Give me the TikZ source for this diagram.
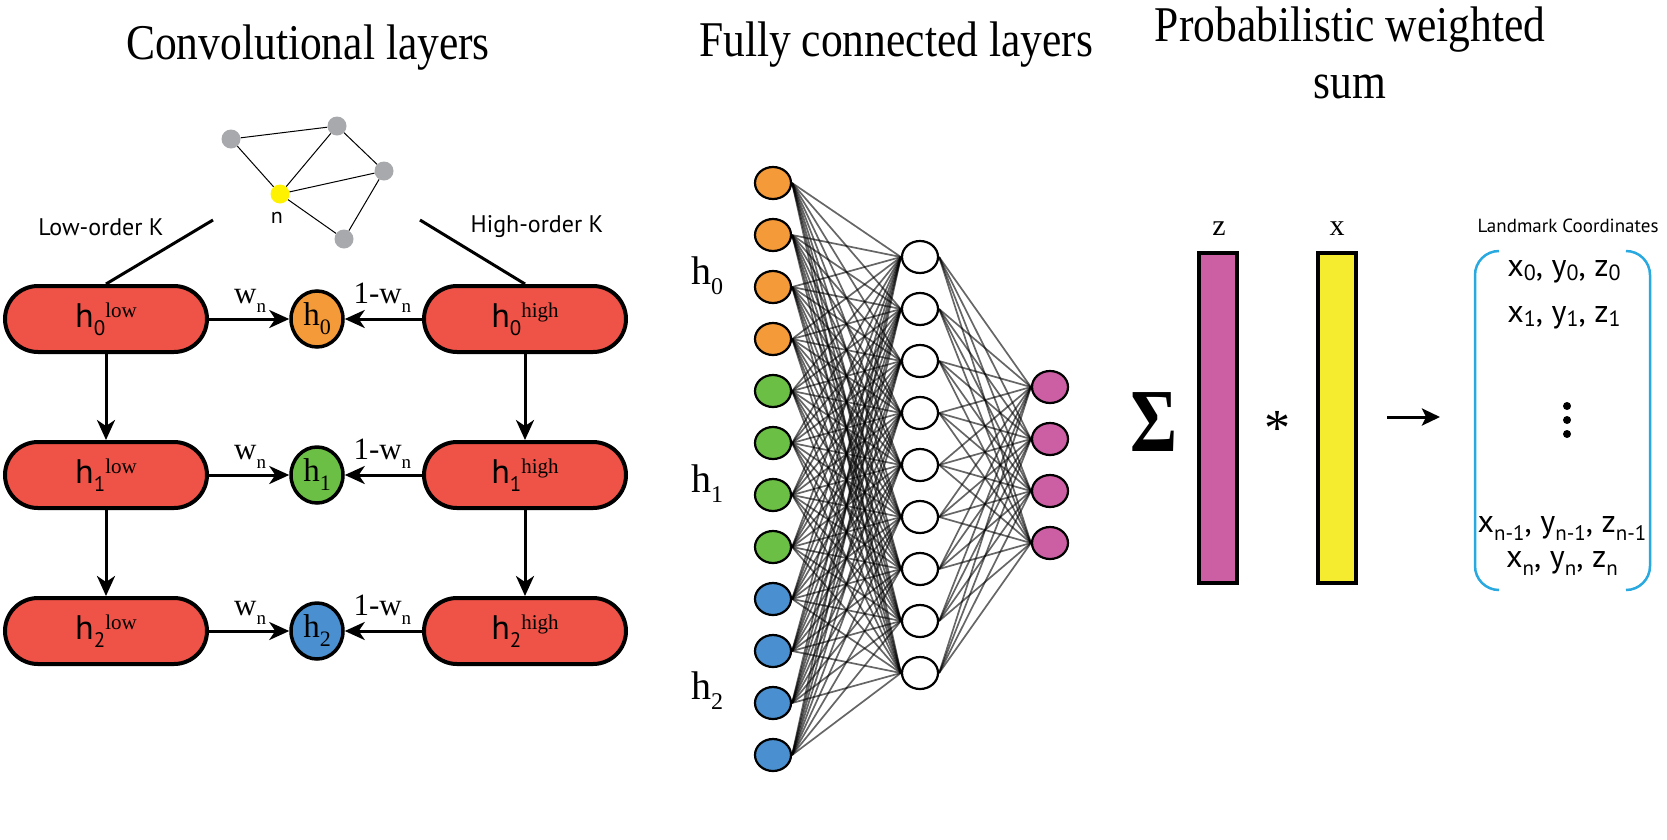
\documentclass[tikz,border=0pt]{standalone}
\usepackage{fontspec}
\setmainfont{Liberation Serif}
\setsansfont{PT Sans}
\newfontfamily\titlefont[FakeStretch=0.87]{Liberation Serif}
\newfontfamily\sigfont[FakeStretch=0.8]{Liberation Serif}
\usetikzlibrary{arrows.meta,shapes.geometric,backgrounds}
\definecolor{boxred}{HTML}{EF5247}
\definecolor{horange}{HTML}{F59A38}
\definecolor{hgreen}{HTML}{6CBF45}
\definecolor{hblue}{HTML}{4A90D0}
\definecolor{outmag}{HTML}{CC5FA3}
\definecolor{baryel}{HTML}{F5EC30}
\definecolor{brcyan}{HTML}{29A9E0}
\definecolor{nodegray}{HTML}{A7A9AC}
\definecolor{nyellow}{HTML}{FFF200}
\newcommand{\fsz}[1]{\fontsize{#1}{#1}\selectfont}
\newcommand{\hlow}[2]{{\sffamily\fsz{34}h\raisebox{-8pt}{\fsz{21}#1}}\raisebox{10pt}{\rmfamily\fsz{21}#2}}
\newcommand{\hsmall}[1]{{\rmfamily\fsz{33}h\raisebox{-9pt}{\fsz{22}#1}}}
\newcommand{\wn}{{\rmfamily\fsz{31}w\raisebox{-9pt}{\fsz{19}n}}}
\newcommand{\sa}[1]{\raisebox{-4pt}{\fsz{22}#1}}
\newcommand{\sn}[1]{\raisebox{-8pt}{\fsz{21}#1}}
\tikzset{
  hbox/.style={draw, line width=4, fill=boxred, rounded corners=33, minimum width=202, minimum height=66, inner sep=0},
  hnode/.style={ellipse, draw, line width=3.5, minimum width=52, minimum height=56, inner sep=0},
  arr/.style={line width=3, -{Stealth[length=20,width=18,inset=6]}},
  gnode/.style={circle, fill=nodegray, minimum size=19, inner sep=0},
  gedge/.style={line width=1},
  fcnode/.style={ellipse, draw, line width=2.2, minimum width=36, minimum height=32, inner sep=0},
  fcedge/.style={line width=1.7, draw=black, opacity=0.6},
  titletext/.style={font=\titlefont\fontsize{50}{57}\selectfont, align=center},
  bar/.style={draw, line width=4, minimum width=38, minimum height=330, inner sep=0},
  coordtext/.style={font=\sffamily\fsz{32}},
  brk/.style={draw=brcyan, line width=2.5},
  vdot/.style={circle, fill=black, minimum size=8, inner sep=0}
}
\begin{document}
\begin{tikzpicture}[x=1pt,y=-1pt]
\useasboundingbox (0,0) rectangle (1667,839);
% titles
\node[titletext] (t1) at (308,48) {Convolutional layers};
\node[titletext] (t2) at (896,45) {Fully connected layers};
\node[titletext] (t3) at (1350,53) {Probabilistic weighted\\sum};
% graph
\node[gnode] (g1) at (231,139) {};
\node[gnode] (g2) at (337,126) {};
\node[gnode] (g3) at (384,171) {};
\node[gnode] (g4) at (344,239) {};
\node[gnode, fill=nyellow] (gn) at (280,194) {};
\node[font=\sffamily\fsz{22}] (nl) at (277,218) {n};
\begin{scope}[on background layer]
\draw[gedge] (g1) -- (g2);
\draw[gedge] (g1) -- (gn);
\draw[gedge] (g2) -- (gn);
\draw[gedge] (g2) -- (g3);
\draw[gedge] (g3) -- (gn);
\draw[gedge] (g3) -- (g4);
\draw[gedge] (gn) -- (g4);
\end{scope}
% order labels
\node[font=\sffamily\fsz{24}] (lok) at (101,227) {Low-order K};
\node[font=\sffamily\fsz{24}] (hok) at (537,227) {High-order K};
\coordinate (lowend) at (213,220);
\coordinate (highend) at (420,220);
% boxes
\foreach \i/\y in {0/319,1/475,2/631}{
  \node[hbox] (l\i) at (106,\y) {\hlow{\i}{low}};
  \node[hbox] (r\i) at (525,\y) {\hlow{\i}{high}};
}
\node[hnode, fill=horange] (c0) at (317,319) {\hsmall{0}};
\node[hnode, fill=hgreen] (c1) at (317,475) {\hsmall{1}};
\node[hnode, fill=hblue] (c2) at (317,631) {\hsmall{2}};
\draw[line width=3] (l0.north) -- (lowend);
\draw[line width=3] (r0.north) -- (highend);
\foreach \i in {0,1,2}{
  \draw[arr] (l\i.east) -- node[above=2pt, xshift=1pt] (wl\i) {\wn} (c\i.west);
  \draw[arr] (r\i.west) -- node[above=2pt, xshift=-1pt] (wr\i) {{\rmfamily\fsz{31}1-}\wn} (c\i.east);
}
\draw[arr] (l0.south) -- (l1.north);
\draw[arr] (l1.south) -- (l2.north);
\draw[arr] (r0.south) -- (r1.north);
\draw[arr] (r1.south) -- (r2.north);
% fully connected
\foreach \k in {0,...,11}{
  \pgfmathsetmacro{\yy}{183+52*\k}
  \ifnum\k<4 \def\cc{horange}\else\ifnum\k<8 \def\cc{hgreen}\else\def\cc{hblue}\fi\fi
  \node[fcnode, fill=\cc] (i\k) at (773,\yy) {};
}
\foreach \k in {0,...,8}{
  \pgfmathsetmacro{\yy}{257+52*\k}
  \node[fcnode, fill=white] (m\k) at (920,\yy) {};
}
\foreach \k in {0,...,3}{
  \pgfmathsetmacro{\yy}{387+52*\k}
  \node[fcnode, fill=outmag] (o\k) at (1050,\yy) {};
}
\begin{scope}[on background layer]
\foreach \a in {0,...,11}{\foreach \b in {0,...,8}{\draw[fcedge] (i\a.east) -- (m\b.west);}}
\foreach \a in {0,...,8}{\foreach \b in {0,...,3}{\draw[fcedge] (m\a.east) -- (o\b.west);}}
\end{scope}
\node (hh0) at (707,276) {\rmfamily\fsz{40}h\raisebox{-10pt}{\fsz{24}0}};
\node (hh1) at (707,484) {\rmfamily\fsz{40}h\raisebox{-10pt}{\fsz{24}1}};
\node (hh2) at (707,691) {\rmfamily\fsz{40}h\raisebox{-10pt}{\fsz{24}2}};
% weighted sum
\node[font=\sigfont\bfseries\fsz{90}] (sig) at (1154,422) {Σ};
\node[bar, fill=outmag] (zbar) at (1218,418) {};
\node[bar, fill=baryel] (xbar) at (1337,418) {};
\node[font=\rmfamily\fsz{30}] (zl) at (1219,229) {z};
\node[font=\rmfamily\fsz{30}] (xl) at (1337,229) {x};
\node[font=\rmfamily\fsz{52}] (star) at (1277,428) {*};
\coordinate (as) at (1387,417);
\coordinate (ae) at (1440,417);
\draw[line width=3, -{Stealth[length=18,width=17,inset=4]}] (as) -- (ae);
\node[font=\sffamily\fsz{19}] (lmc) at (1568,226) {Landmark Coordinates};
\draw[brk] (1499,251) arc[start angle=270, end angle=180, radius=24] -- (1475,566) arc[start angle=180, end angle=90, radius=24];
\draw[brk] (1626,251) arc[start angle=270, end angle=360, radius=24] -- (1650,566) arc[start angle=0, end angle=90, radius=24];
\node[coordtext] (r0t) at (1564,272) {x\sa{0}, y\sa{0}, z\sa{0}};
\node[coordtext] (r1t) at (1564,318) {x\sa{1}, y\sa{1}, z\sa{1}};
\node[vdot] (d1) at (1567,406) {};
\node[vdot] (d2) at (1567,420) {};
\node[vdot] (d3) at (1567,434) {};
\node[coordtext] (rn1t) at (1562,528) {x\sn{n-1}, y\sn{n-1}, z\sn{n-1}};
\node[coordtext] (rnt) at (1562,563) {x\sn{n}, y\sn{n}, z\sn{n}};
\end{tikzpicture}
\end{document}
